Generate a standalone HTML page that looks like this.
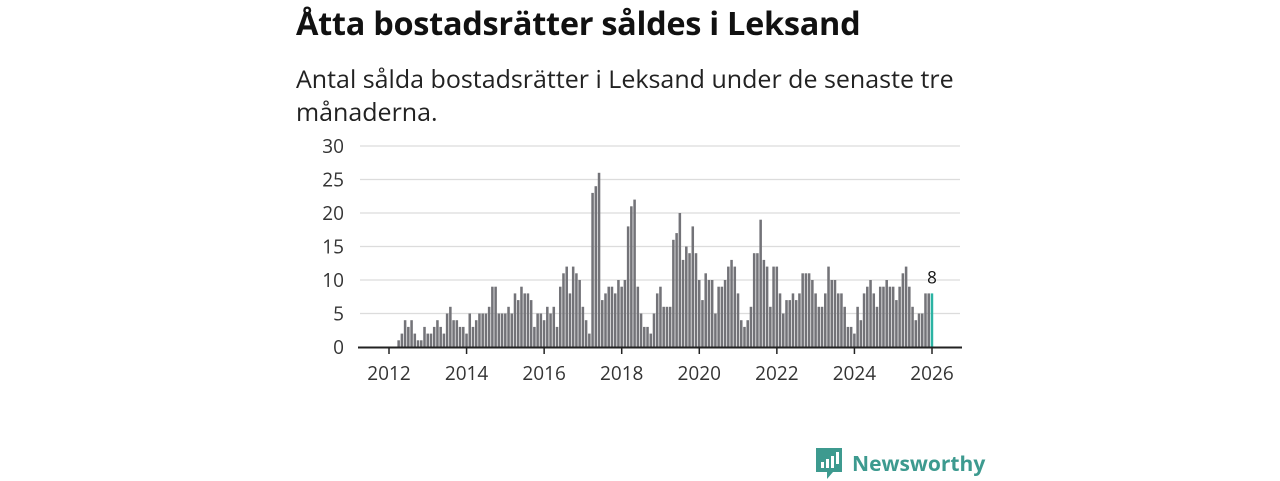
<!DOCTYPE html>
<html><head><meta charset="utf-8">
<style>
body{margin:0;width:1280px;height:480px;background:#fff;font-family:"Open Sans","DejaVu Sans","Liberation Sans",sans-serif;overflow:hidden;position:relative;color:#111}
h1{position:absolute;left:296px;top:0px;margin:0;font-size:32.5px;font-weight:bold;letter-spacing:-0.3px}
p.sub{position:absolute;left:296px;top:63px;margin:0;font-size:25px;line-height:33px;width:700px;color:#222}
svg{position:absolute;left:0;top:0}
</style></head><body>
<h1>Åtta bostadsrätter såldes i Leksand</h1>
<p class="sub">Antal sålda bostadsrätter i Leksand under de senaste tre månaderna.</p>
<svg id="chart" width="1280" height="480"></svg>
<div style="position:absolute;left:815px;top:447px;display:flex;align-items:center">
<svg width="28" height="34" style="position:static" viewBox="0 0 28 34"><path d="M1 1h26v24H18l-6 7v-7H1z" fill="#3d9a8f"/><rect x="6" y="15" width="3" height="6" fill="#fff"/><rect x="11" y="12" width="3" height="9" fill="#fff"/><rect x="16" y="9" width="3" height="12" fill="#fff"/><rect x="21" y="5" width="3" height="12" fill="#fff"/></svg>
<span style="font-size:21px;color:#3d9a8f;margin-left:9px;font-weight:bold">Newsworthy</span></div>
<script>
const years=[2012,2014,2016,2018,2020,2022,2024,2026];
const yTicks=[0,5,10,15,20,25,30];
const values=[
0,0,1,2,4,3,4,2,1,1,3,2,
2,3,4,3,2,5,6,4,4,3,3,2,
5,3,4,5,5,5,6,9,9,5,5,5,
6,5,8,7,9,8,8,7,3,5,5,4,
6,5,6,3,9,11,12,8,12,11,10,6,
4,2,23,24,26,7,8,9,9,8,10,9,
10,18,21,22,9,5,3,3,2,5,8,9,
6,6,6,16,17,20,13,15,14,18,14,10,
7,11,10,10,5,9,9,10,12,13,12,8,
4,3,4,6,14,14,19,13,12,6,12,12,
8,5,7,7,8,7,8,11,11,11,10,8,
6,6,8,12,10,10,8,8,6,3,3,2,
6,4,8,9,10,8,6,9,9,10,9,9,
7,9,11,12,9,6,4,5,5,8,8,8];
const svg=document.getElementById('chart');const NS='http://www.w3.org/2000/svg';
const x=t=>389+(t-2012)*(932-389)/14;
const y=v=>347-v*(347-146)/30;
function mk(tag,a){const e=document.createElementNS(NS,tag);for(const k in a)e.setAttribute(k,a[k]);svg.appendChild(e);return e;}
yTicks.forEach(v=>{
 if(v>0){const g=mk('line',{x1:360,x2:960,y1:y(v),y2:y(v),stroke:'#dcdcdc','stroke-width':1.3});
 
 }
 const t=mk('text',{x:344,y:y(v)+7,'text-anchor':'end','font-size':19,fill:'#333'});t.textContent=v;
 
 
});
const bw=(932-389)/168;
values.forEach((v,i)=>{
 const cx=x(2012+(i+1)/12);const last=i===values.length-1;
 const r=mk('rect',{x:cx-bw/2+0.3,width:bw-0.7,y:y(v),height:y(0)-y(v),fill:last?'#2bb3a3':'#737378'});
 
 
 if(last){const l=mk('text',{x:cx,y:y(v)-10,'text-anchor':'middle','font-size':17,fill:'#111'});l.textContent=v;
 
 }
});
const ax=mk('line',{x1:358,x2:962,y1:347.5,y2:347.5,stroke:'#222','stroke-width':2});


years.forEach(yr=>{
 const tk=mk('line',{x1:x(yr),x2:x(yr),y1:347,y2:354,stroke:'#222','stroke-width':1.5});
 
 
 const t=mk('text',{x:x(yr),y:380,'text-anchor':'middle','font-size':19,fill:'#333'});t.textContent=yr;
 
 
});
</script>
</body></html>
